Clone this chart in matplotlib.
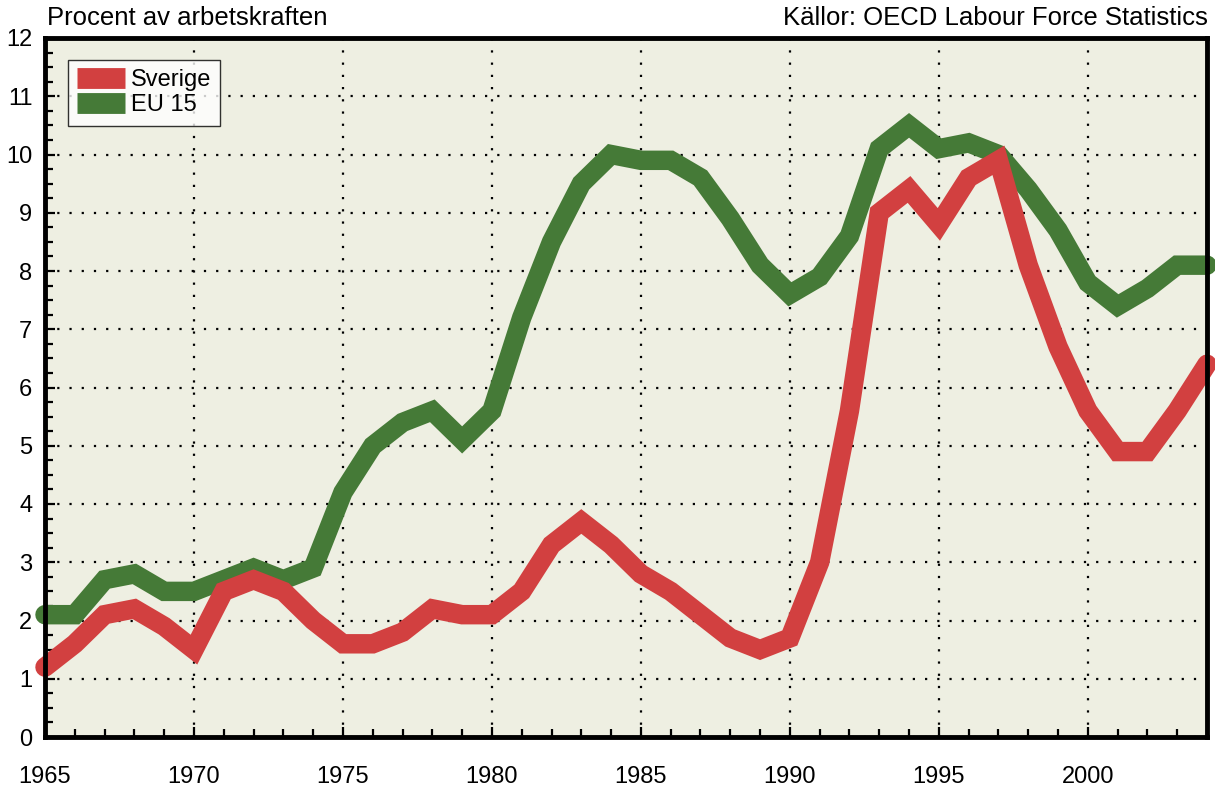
import matplotlib
matplotlib.use("Agg")
import matplotlib.pyplot as plt
from matplotlib.ticker import MultipleLocator

plt.rcParams['font.family'] = ['Liberation Sans', 'DejaVu Sans']

years = list(range(1965, 2005))
sverige = [1.2, 1.6, 2.1, 2.2, 1.9, 1.5, 2.5, 2.7, 2.5, 2.0,
           1.6, 1.6, 1.8, 2.2, 2.1, 2.1, 2.5, 3.3, 3.7, 3.3,
           2.8, 2.5, 2.1, 1.7, 1.5, 1.7, 3.0, 5.6, 9.0, 9.4,
           8.8, 9.6, 9.9, 8.1, 6.7, 5.6, 4.9, 4.9, 5.6, 6.4]
eu15 = [2.1, 2.1, 2.7, 2.8, 2.5, 2.5, 2.7, 2.9, 2.7, 2.9,
        4.2, 5.0, 5.4, 5.6, 5.1, 5.6, 7.2, 8.5, 9.5, 10.0,
        9.9, 9.9, 9.6, 8.9, 8.1, 7.6, 7.9, 8.6, 10.1, 10.5,
        10.1, 10.2, 10.0, 9.4, 8.7, 7.8, 7.4, 7.7, 8.1, 8.1]
xticks = [1965, 1970, 1975, 1980, 1985, 1990, 1995, 2000]
yticks = list(range(0, 13))

fig = plt.figure(figsize=(12.15, 7.89), dpi=100)
ax = fig.add_axes([45/1215, 1-737/789, (1207-45)/1215, (737-38)/789])
ax.set_facecolor('#EEEFE2')

red = '#D24040'
green = '#457A37'
ax.plot(years, eu15, color=green, lw=14, solid_capstyle='round',
        solid_joinstyle='miter', clip_on=False, zorder=3, label='EU 15')
ax.plot(years, sverige, color=red, lw=14, solid_capstyle='round',
        solid_joinstyle='miter', clip_on=False, zorder=4, label='Sverige')

ax.set_xlim(1965, 2004)
ax.set_ylim(0, 12)
ax.set_xticks(xticks)
ax.set_yticks(yticks)
ax.xaxis.set_minor_locator(MultipleLocator(1))
ax.yaxis.set_minor_locator(MultipleLocator(0.25))
ax.grid(True, which='major', color='black', linestyle=(0, (1, 4.5)), lw=1.6, zorder=1)

for s in ax.spines.values():
    s.set_linewidth(3.5)
    s.set_zorder(5)
ax.tick_params(which='both', direction='in', width=1.6, colors='black',
               top=False, right=False, labelsize=17)
ax.tick_params(which='major', length=7)
ax.tick_params(which='minor', length=6)
ax.tick_params(axis='x', pad=21)
ax.tick_params(axis='y', pad=9)

h, l = ax.get_legend_handles_labels()
leg = ax.legend(h[::-1], l[::-1], loc='upper left', bbox_to_anchor=(0.0198, 0.9685),
                fontsize=17, frameon=True, fancybox=False, handlelength=2.0,
                handletextpad=0.25, borderpad=0.4, labelspacing=0.12,
                borderaxespad=0)
leg.get_frame().set_edgecolor('black')
leg.get_frame().set_linewidth(1.0)
leg.set_zorder(6)
for line in leg.get_lines():
    line.set_linewidth(15)
    line.set_solid_capstyle('butt')

fig.text(47/1215, 1-18/789, 'Procent av arbetskraften', fontsize=18.5,
         ha='left', va='center')
fig.text(1208/1215, 1-18/789, 'Källor: OECD Labour Force Statistics', fontsize=18.5,
         ha='right', va='center')

fig.savefig('out.png', dpi=100)
